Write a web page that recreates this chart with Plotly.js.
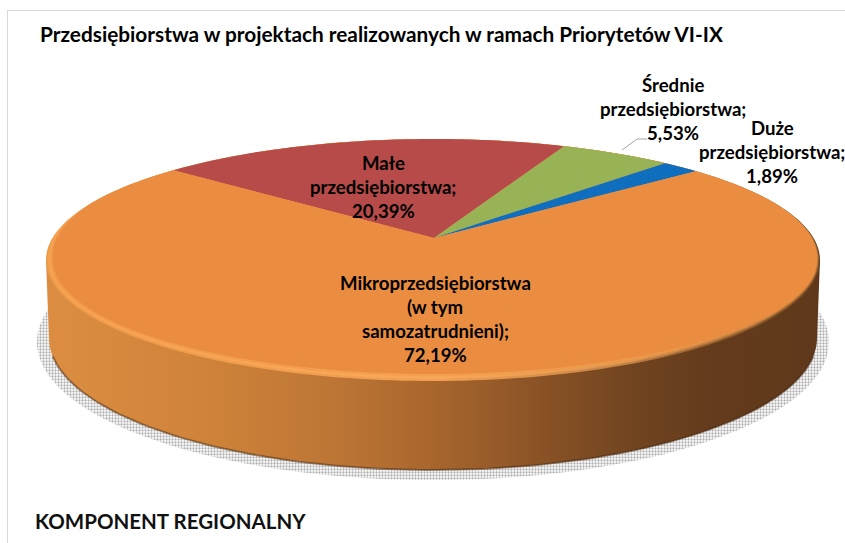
<!DOCTYPE html>
<html><head><meta charset="utf-8">
<script src="https://cdn.plot.ly/plotly-3.0.1.min.js"></script>
<style>html,body{margin:0;padding:0;background:#fff}#c{width:845px;height:543px}</style></head>
<body><div id="c"></div>
<script>
// --- data ---
const categories = ['Małe przedsiębiorstwa', 'Średnie przedsiębiorstwa', 'Duże przedsiębiorstwa', 'Mikroprzedsiębiorstwa (w tym samozatrudnieni)'];
const values = [20.39, 5.53, 1.89, 72.19];
const colors = ['#B64B4A', '#98B355', '#0F6FBE', '#EB8D41'];
const labelLines = [['Małe', 'przedsiębiorstwa;'], ['Średnie', 'przedsiębiorstwa;'], ['Duże', 'przedsiębiorstwa;'], ['Mikroprzedsiębiorstwa', '(w tym', 'samozatrudnieni);']];
const titleText = 'Przedsiębiorstwa w projektach realizowanych w ramach Priorytetów VI-IX';
const footerText = 'KOMPONENT REGIONALNY';

// --- geometry of the tilted disc (pixel-aligned axes) ---
const cx = 433, cy = 260, rx = 387, ry = 121, persp = 0.182, startDeg = -49.7;
const botCy = 338, botRx = 384, botRy = 132;
const inset = 7;

function unit(deg) {           // perspective: circle angle -> normalised point on the ellipse
  const t = deg * Math.PI / 180, u = Math.sin(t), v = Math.cos(t), d = 1 + persp * v;
  return [u * Math.sqrt(1 - persp * persp) / d, (v + persp) / d];
}
function ringXY(u, v, ins) {
  const s = Math.max(0, Math.min(1, (0.5 - v) / 0.5));
  const side = u > 0 ? 1 - 0.6 * Math.min(1, u / 0.6) : 1;
  return [cx + u * (rx - ins * s * side), cy - v * (v < 0 ? ry - ins : ry)];
}
function faceXY(deg) { const [u, v] = unit(deg); return ringXY(u, v, inset); }
const apex = [cx + 1, cy - persp * ry];
function range(a, b, n) { const r = []; for (let i = 0; i <= n; i++) r.push(a + (b - a) * i / n); return r; }
function ell(c, y0, a, b, from, to, n) {
  return range(from, to, n).map(d => [c + a * Math.cos(d * Math.PI / 180), y0 - b * Math.sin(d * Math.PI / 180)]);
}
function xy(pts, o) { return Object.assign({type: 'scatter', mode: 'none', x: pts.map(p => p[0]), y: pts.map(p => p[1]), hoverinfo: 'skip', showlegend: false}, o); }

const traces = [];
// halftone shadow
traces.push(xy(ell(433, 342, 396, 138, 0, 360, 180), {fill: 'toself', fillpattern: {shape: '.', size: 3, solidity: 0.45, fgcolor: '#b0b0b0', bgcolor: '#ffffff'}}));
// side wall
const wall = [[46, cy]].concat(ell(cx, botCy, botRx, botRy, 180, 360, 140)).concat([[820, cy]]);
traces.push(xy(wall, {fill: 'toself', fillgradient: {type: 'horizontal', start: 46, stop: 820, colorscale: [
  [0, '#DC8D42'], [0.2, '#D08439'], [0.38, '#BC7535'], [0.5, '#A8662D'], [0.62, '#8E5527'], [0.75, '#724520'], [0.86, '#643B1C'], [1, '#5F381B']]}}));
// dark lower edge of the wall
traces.push(xy(ell(cx, botCy, botRx, botRy, 188, 352, 120), {mode: 'lines', line: {color: 'rgba(70,40,15,0.5)', width: 2}}));
// soft bevel rim, built up in three steps towards the face
const rims = [
  [['#EE9A4A', 0], ['#F3A052', 0.5], ['#C98446', 0.74], ['#8E5A2C', 0.88], ['#6A411F', 1]],
  [['#F6A452', 0], ['#F9A85A', 0.5], ['#E0984F', 0.76], ['#B37539', 0.9], ['#8A5628', 1]],
  [['#F29A4B', 0], ['#F4A050', 0.5], ['#EC9749', 0.8], ['#D58A42', 0.93], ['#B87938', 1]]
];
rims.forEach((stops, k) => {
  const ins = inset * k / 3;
  const pts = range(0, 360, 240).map(d => { const r = d * Math.PI / 180; return ringXY(Math.sin(r), Math.cos(r), ins); });
  traces.push(xy(pts, {fill: 'toself', fillgradient: {type: 'horizontal', start: 46, stop: 820, colorscale: stops.map(s => [s[1], s[0]])}}));
});
// slices
let acc = startDeg;
values.forEach((val, i) => {
  const a = acc, b = acc + val * 3.6;
  const pts = [apex].concat(range(a, b, Math.max(8, Math.round(val * 4))).map(faceXY)).concat([apex]);
  traces.push(xy(pts, {name: categories[i], fill: 'toself', fillcolor: colors[i], line: {width: 0}}));
  acc = b;
});
// leader line
traces.push({type: 'scatter', mode: 'lines', x: [622, 637, 647], y: [150, 139, 139], line: {color: '#A6A6A6', width: 1}, hoverinfo: 'skip', showlegend: false});

const fmt = v => v.toFixed(2).replace('.', ',') + '%';
const labelPos = [[383, 163], [673, 85], [772, 128], [435, 283]];
const ann = [];
const font = {family: 'Lato, Carlito, sans-serif', size: 18.6, color: '#000'};
const lineGap = 24;
labelLines.forEach((lines, i) => {
  lines.concat([fmt(values[i])]).forEach((t, k) => ann.push({xref: 'x', yref: 'y', x: labelPos[i][0], y: labelPos[i][1] + k * lineGap, text: '<b>' + t + '</b>', showarrow: false, xanchor: 'center', yanchor: 'middle', font, align: 'center'}));
});
ann.push({xref: 'x', yref: 'y', x: 38, y: 33, text: '<b>' + titleText + '</b>', showarrow: false, xanchor: 'left', yanchor: 'middle', font: {family: font.family, size: 20.8, color: '#000'}});
ann.push({xref: 'x', yref: 'y', x: 33, y: 521, text: '<b>' + footerText + '</b>', showarrow: false, xanchor: 'left', yanchor: 'middle', font: {family: font.family, size: 20.5, color: '#111'}});

const layout = {
  width: 845, height: 543, margin: {l: 0, r: 0, t: 0, b: 0}, paper_bgcolor: '#fff', plot_bgcolor: '#fff', showlegend: false,
  xaxis: {range: [0, 845], visible: false, fixedrange: true},
  yaxis: {range: [543, 0], visible: false, fixedrange: true},
  annotations: ann,
  shapes: [
    {type: 'line', x0: 7.5, x1: 7.5, y0: 10, y1: 543, line: {color: '#D9D9D9', width: 1}},
    {type: 'line', x0: 7.5, x1: 845, y0: 10.5, y1: 10.5, line: {color: '#D9D9D9', width: 1}}
  ]
};
Plotly.newPlot('c', traces, layout, {displayModeBar: false, staticPlot: true});
</script></body></html>
